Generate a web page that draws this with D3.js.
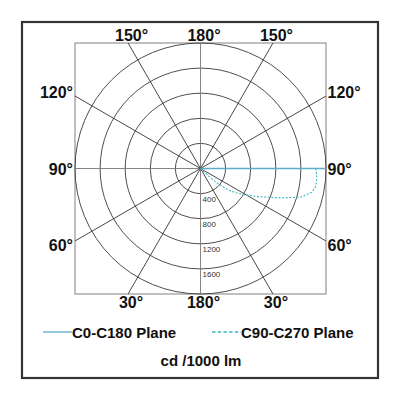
<!DOCTYPE html>
<html>
<head>
<meta charset="utf-8">
<script src="https://cdn.jsdelivr.net/npm/d3@7"></script>
<style>
  body { margin: 0; background: #fff; }
  svg text { font-family: "Liberation Sans", Arial, sans-serif; }
</style>
</head>
<body>
<svg id="canvas_polar" width="400" height="400"></svg>
<script>
'use strict';

/* radial ticks (cd / 1000 lm) */
const radialTicks = [400, 800, 1200, 1600, 2000];
const radialLabels = ['400', '800', '1200', '1600'];
const radialMax = 2000;

/* spoke angles, 0 = straight down, 90 = horizontal */
const spokeAngles = [0, 30, 60, 90, 120, 150, 180, 210, 240, 270, 300, 330];

/* angle labels round the frame */
const topLabels = ['150°', '180°', '150°'];
const sideLabels = ['120°', '90°', '60°'];
const bottomLabels = ['30°', '180°', '30°'];

/* C0-C180 plane: gamma angle and intensity */
const c0Angles = [0, 89, 90, 91];
const c0Values = [0, 0, 2000, 0];

/* C90-C270 plane: gamma angle and intensity */
const c90Angles = [0, 40, 45, 48, 52, 56, 60, 65, 70, 74, 78, 81, 84, 87, 90];
const c90Values = [0, 0, 80, 300, 550, 700, 850, 1070, 1370, 1660, 1815, 1855, 1860, 1856, 1835];

const seriesNames = ['C0-C180 Plane', 'C90-C270 Plane'];
const unitLabel = 'cd /1000 lm';

/* layout */
const cx = 200.5, cy = 168.5, R = 125.5;
const svg = d3.select('svg#canvas_polar');

/* outer frame */
svg.append('rect')
  .attr('x', 22).attr('y', 22)
  .attr('width', 356).attr('height', 356)
  .style('fill', 'none')
  .style('stroke', '#333')
  .style('stroke-width', 2.2);

let r = d3.scaleLinear().domain([0, radialMax]).range([0, R]);
const rad = function(deg){ return deg * Math.PI / 180; };

let graph = svg.append('g')
  .attr('id', 'graph')
  .attr('transform', 'translate(' + cx + ',' + cy + ')');

/* square round the polar grid */
graph.append('rect')
  .attr('x', -R).attr('y', -R)
  .attr('width', 2 * R).attr('height', 2 * R)
  .style('fill', 'none')
  .style('stroke', '#808080')
  .style('stroke-width', 1);

/* circles */
graph.append('g').attr('id', 'circles')
  .selectAll('circle')
  .data(radialTicks)
  .enter().append('circle')
    .attr('r', function(d){ return r(d); })
    .style('fill', 'none')
    .style('stroke', '#3a3a3a')
    .style('stroke-width', 0.9);

/* spokes, running out to the square */
graph.append('g').attr('id', 'spokes')
  .selectAll('line')
  .data(spokeAngles)
  .enter().append('line')
    .attr('x1', 0).attr('y1', 0)
    .attr('x2', function(d){
      let s = Math.sin(rad(d)), c = Math.cos(rad(d));
      return R * s / Math.max(Math.abs(s), Math.abs(c));
    })
    .attr('y2', function(d){
      let s = Math.sin(rad(d)), c = Math.cos(rad(d));
      return R * c / Math.max(Math.abs(s), Math.abs(c));
    })
    .style('stroke', function(d){ return (d % 90 === 0) ? '#777' : '#333'; })
    .style('stroke-width', 0.9);

/* radial value labels */
graph.append('g').attr('id', 'rlabels')
  .selectAll('text')
  .data(radialLabels)
  .enter().append('text')
    .attr('x', 2)
    .attr('y', function(d){ return r(+d) + 8; })
    .style('font-size', '8px')
    .style('fill', '#333')
    .text(function(d){ return d; });

/* curves */
let line = d3.lineRadial()
  .angle(function(d){ return Math.PI - rad(d[0]); })
  .radius(function(d){ return r(d[1]); });

graph.append('path')
  .datum(c90Angles.map(function(a, i){ return [a, c90Values[i]]; }))
  .attr('d', line)
  .style('fill', 'none')
  .style('stroke', '#3db5c2')
  .style('stroke-width', 1.1)
  .style('stroke-dasharray', '2,1.6');

graph.append('path')
  .datum(c0Angles.map(function(a, i){ return [a, c0Values[i]]; }))
  .attr('d', line)
  .style('fill', 'none')
  .style('stroke', '#5aaecb')
  .style('stroke-width', 1.3);

/* angle labels */
let ang = svg.append('g').attr('id', 'angles')
  .style('font-size', '16px')
  .style('font-weight', 'bold')
  .style('fill', '#111');
let edgeX = [cx - R * Math.tan(rad(30)), cx, cx + R * Math.tan(rad(30))];
ang.selectAll('text.top')
  .data(topLabels)
  .enter().append('text')
    .attr('class', 'top')
    .attr('x', function(d, i){ return edgeX[i] + 3.5; })
    .attr('y', cy - R - 2)
    .attr('text-anchor', 'middle')
    .text(function(d){ return d; });
ang.selectAll('text.bottom')
  .data(bottomLabels)
  .enter().append('text')
    .attr('class', 'bottom')
    .attr('x', function(d, i){ return edgeX[i] + 3; })
    .attr('y', cy + R + 14)
    .attr('text-anchor', 'middle')
    .text(function(d){ return d; });
ang.selectAll('text.left')
  .data(sideLabels)
  .enter().append('text')
    .attr('class', 'left')
    .attr('x', cx - R - 2)
    .attr('y', function(d, i){ return cy + (i - 1) * 76.5 + 6; })
    .attr('text-anchor', 'end')
    .text(function(d){ return d; });
ang.selectAll('text.right')
  .data(sideLabels)
  .enter().append('text')
    .attr('class', 'right')
    .attr('x', cx + R + 1.5)
    .attr('y', function(d, i){ return cy + (i - 1) * 76.5 + 6; })
    .text(function(d){ return d; });

/* legend */
let legend = svg.append('g').attr('id', 'legend')
  .style('font-size', '15px')
  .style('font-weight', 'bold')
  .style('fill', '#111');
let legendX = [43, 212];
legend.selectAll('line')
  .data(seriesNames)
  .enter().append('line')
    .attr('x1', function(d, i){ return legendX[i]; })
    .attr('x2', function(d, i){ return legendX[i] + 29; })
    .attr('y1', 332).attr('y2', 332)
    .style('stroke', function(d, i){ return i === 0 ? '#5aaecb' : '#3db5c2'; })
    .style('stroke-width', 1.3)
    .style('stroke-dasharray', function(d, i){ return i === 0 ? null : '3.5,2.2'; });
legend.selectAll('text')
  .data(seriesNames)
  .enter().append('text')
    .attr('x', function(d, i){ return legendX[i] + 29; })
    .attr('y', 337.5)
    .text(function(d){ return d; });

svg.append('text')
  .attr('x', 201).attr('y', 365.5)
  .attr('text-anchor', 'middle')
  .style('font-size', '15px')
  .style('font-weight', 'bold')
  .style('fill', '#111')
  .text(unitLabel);
</script>
</body>
</html>
